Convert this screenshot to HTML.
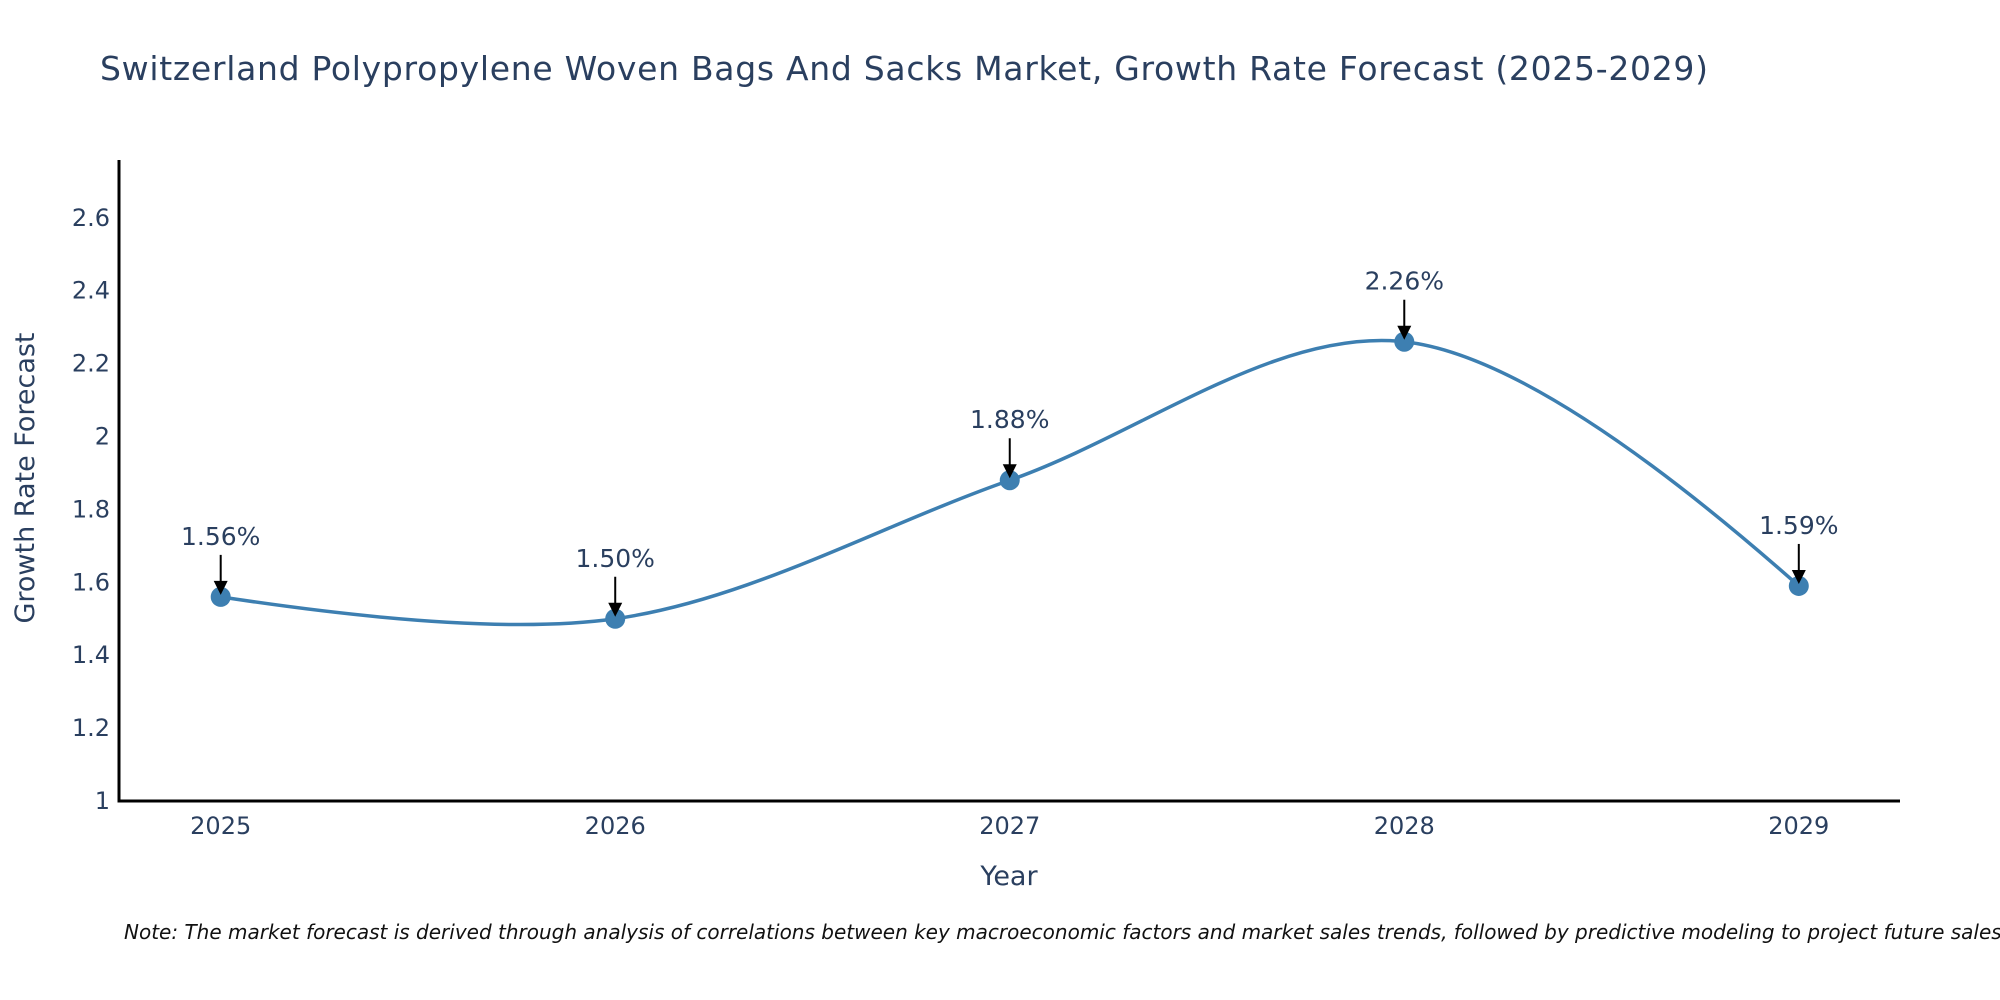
<!DOCTYPE html>
<html><head><meta charset="utf-8"><style>
body{margin:0;background:#fff}
svg{display:block}
text{font-family:"DejaVu Sans","Liberation Sans",sans-serif;fill:#2a3f5f}
</style></head><body>
<svg id="chart" width="2000" height="1000" viewBox="0 0 2000 1000" xmlns="http://www.w3.org/2000/svg">
<rect width="2000" height="1000" fill="#fff"/>
<text x="100" y="80" font-size="33" textLength="1608">Switzerland Polypropylene Woven Bags And Sacks Market, Growth Rate Forecast (2025-2029)</text>
<g id="yticks"></g>
<g id="xticks"></g>
<line x1="119" y1="160" x2="119" y2="802" stroke="#000" stroke-width="3"/>
<line x1="117.5" y1="801" x2="1900" y2="801" stroke="#000" stroke-width="3"/>
<text x="1009" y="885" font-size="27" text-anchor="middle">Year</text>
<text transform="translate(34,478) rotate(-90)" font-size="27" text-anchor="middle">Growth Rate Forecast</text>
<g id="series"></g>
<g id="annots"></g>
<text x="124" y="939" font-size="20" font-style="italic" style="fill:#111">Note: The market forecast is derived through analysis of correlations between key macroeconomic factors and market sales trends, followed by predictive modeling to project future sales</text>
</svg>
<script>
const years = ["2025","2026","2027","2028","2029"];
const values = [1.56, 1.50, 1.88, 2.26, 1.59];
const labels = ["1.56%","1.50%","1.88%","2.26%","1.59%"];
const yTicks = [1, 1.2, 1.4, 1.6, 1.8, 2, 2.2, 2.4, 2.6];
const yTickLabels = ["1","1.2","1.4","1.6","1.8","2","2.2","2.4","2.6"];

const NS = "http://www.w3.org/2000/svg";
function xScale(i){ return 220.7 + i * (1798.8 - 220.7) / (years.length - 1); }
function yScale(v){ return 801 - (v - 1) * 364.5; }
function mk(tag, attrs, parent){ const e = document.createElementNS(NS, tag); for (const k in attrs) e.setAttribute(k, attrs[k]); parent.appendChild(e); return e; }

const yt = document.getElementById('yticks');
yTicks.forEach((v, i) => {
  const t = mk('text', {x: 110, y: yScale(v) + 8, 'font-size': 24, 'text-anchor': 'end'}, yt);
  
  
  t.textContent = yTickLabels[i];
});
const xt = document.getElementById('xticks');
years.forEach((y, i) => {
  const t = mk('text', {x: xScale(i), y: 834, 'font-size': 24, 'text-anchor': 'middle'}, xt);
  
  
  t.textContent = y;
});

const pts = values.map((v, i) => [xScale(i), yScale(v)]);
function tangent(p0, p1, p2, s){
  const d1x = p0[0]-p1[0], d1y = p0[1]-p1[1], d2x = p2[0]-p1[0], d2y = p2[1]-p1[1];
  const d1a = Math.pow(d1x*d1x + d1y*d1y, 0.25), d2a = Math.pow(d2x*d2x + d2y*d2y, 0.25);
  const nx = (d2a*d2a*d1x - d1a*d1a*d2x) * s, ny = (d2a*d2a*d1y - d1a*d1a*d2y) * s;
  const de1 = 3*d2a*(d1a+d2a), de2 = 3*d1a*(d1a+d2a);
  return [[p1[0]+nx/de1, p1[1]+ny/de1], [p1[0]-nx/de2, p1[1]-ny/de2]];
}
const tg = [];
for (let i = 1; i < pts.length - 1; i++) tg.push(tangent(pts[i-1], pts[i], pts[i+1], 1));
let d = 'M' + pts[0] + 'Q' + tg[0][0] + ' ' + pts[1];
for (let i = 2; i < pts.length - 1; i++) d += 'C' + tg[i-2][1] + ' ' + tg[i-1][0] + ' ' + pts[i];
d += 'Q' + tg[pts.length-3][1] + ' ' + pts[pts.length-1];
const s = document.getElementById('series');
const line = mk('path', {d: d, fill: 'none', stroke: '#3d7fb1', 'stroke-width': 3.5}, s);


pts.forEach(p => {
  const c = mk('circle', {cx: p[0], cy: p[1], r: 10, fill: '#3d7fb1'}, s);
  
  
});

const an = document.getElementById('annots');
pts.forEach((p, i) => {
  const l = mk('line', {x1: p[0], y1: p[1]-42, x2: p[0], y2: p[1]-14, stroke: '#000', 'stroke-width': 2}, an);
  
  
  const h = mk('polygon', {points: (p[0]-7)+','+(p[1]-16)+' '+(p[0]+7)+','+(p[1]-16)+' '+p[0]+','+(p[1]-2), fill: '#000'}, an);
  
  
  const t = mk('text', {x: p[0], y: p[1]-52, 'font-size': 25, 'text-anchor': 'middle'}, an);
  
  
  t.textContent = labels[i];
});
</script>
</body></html>
